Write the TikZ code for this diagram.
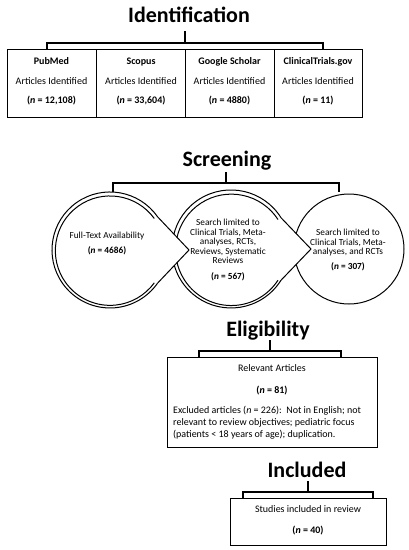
\documentclass[tikz,border=0pt]{standalone}
\usepackage{fontspec}
\setmainfont{Carlito}
\begin{document}
\begin{tikzpicture}[x=1pt,y=-1pt,
  ttl/.style={anchor=base,inner sep=0,font=\fontsize{22}{26}\selectfont\bfseries},
  txt/.style={anchor=base,inner sep=0,font=\fontsize{10}{12}\selectfont},
  btxt/.style={anchor=base,inner sep=0,font=\fontsize{10}{12}\selectfont\bfseries},
  ltxt/.style={anchor=base west,inner sep=0,font=\fontsize{10}{12}\selectfont},
  ctxt/.style={anchor=base,inner sep=0,font=\fontsize{9.3}{11}\selectfont},
  cbtxt/.style={anchor=base,inner sep=0,font=\fontsize{9.3}{11}\selectfont\bfseries},
  srcbox/.style={draw,line width=1pt,inner sep=0,minimum height=68pt},
  brk/.style={line width=1.3pt},
  ring/.style={draw,line width=1pt,fill=white},
  ringin/.style={line width=1pt},
]
\fill[white] (0,0) rectangle (409,550);
\useasboundingbox (0,0) rectangle (409,550);

% ---------- Identification ----------
\node[ttl] (idt) at (189,22) {Identification};
\coordinate (idtop) at (185,31);
\coordinate (idbar) at (185,43);
\coordinate (idl) at (47,49);
\coordinate (idr) at (323,49);
\draw[brk] (idtop) -- (idbar);
\draw[brk] (idl) |- (idbar) -| (idr);

\node[srcbox,minimum width=89pt] (pub) at (51.5,83) {};
\node[srcbox,minimum width=89pt] (sco) at (140.5,83) {};
\node[srcbox,minimum width=89pt] (goo) at (229.5,83) {};
\node[srcbox,minimum width=88pt] (ctg) at (318,83) {};

\node[btxt] (pub1) at (51.5,64) {PubMed};
\node[txt]  (pub2) at (51.5,84) {Articles Identified};
\node[btxt] (pub3) at (51.5,103) {(\textit{n} = 12,108)};
\node[btxt] (sco1) at (141,64) {Scopus};
\node[txt]  (sco2) at (141,84) {Articles Identified};
\node[btxt] (sco3) at (141,103) {(\textit{n} = 33,604)};
\node[btxt] (goo1) at (229.5,64) {Google Scholar};
\node[txt]  (goo2) at (229.5,84) {Articles Identified};
\node[btxt] (goo3) at (229.5,103) {(\textit{n} = 4880)};
\node[btxt] (ctg1) at (318,64) {ClinicalTrials.gov};
\node[txt]  (ctg2) at (318,84) {Articles Identified};
\node[btxt] (ctg3) at (318,103) {(\textit{n} = 11)};

% ---------- Screening ----------
\node[ttl] (sct) at (227,166) {Screening};
\coordinate (sctop) at (226,172);
\coordinate (scbar) at (226,183);
\coordinate (scl) at (113,192);
\coordinate (scr) at (339,192);
\draw[brk] (sctop) -- (scbar);
\draw[brk] (scl) |- (scbar) -| (scr);

% circle 3
\draw[ring] (349,249) circle[radius=55pt];
% circle 2 with pointer
\draw[ring] (281,217.7) arc[start angle=32,end angle=328,radius=59pt] -- (311,249) -- cycle;
\draw[ringin] (278,219.5) arc[start angle=33,end angle=327,radius=55.7pt];
% circle 1 with pointer
\draw[ring] (157.5,216.7) arc[start angle=35,end angle=325,radius=58pt] -- (189,250) -- cycle;
\draw[ringin] (154.3,218.5) arc[start angle=36,end angle=324,radius=54.7pt];

\node[ctxt]  (c1a) at (107,238) {Full-Text Availability};
\node[cbtxt] (c1b) at (107,253) {(\textit{n} = 4686)};

\node[ctxt]  (c2a) at (228,225) {Search limited to};
\node[ctxt]  (c2b) at (228,235) {Clinical Trials, Meta-};
\node[ctxt]  (c2c) at (228,244.5) {analyses, RCTs,};
\node[ctxt]  (c2d) at (228,254) {Reviews, Systematic};
\node[ctxt]  (c2e) at (228,263) {Reviews};
\node[cbtxt] (c2f) at (228,279) {(\textit{n} = 567)};

\node[ctxt]  (c3a) at (348,235) {Search limited to};
\node[ctxt]  (c3b) at (348,245) {Clinical Trials, Meta-};
\node[ctxt]  (c3c) at (348,254.5) {analyses, and RCTs};
\node[cbtxt] (c3d) at (348,269) {(\textit{n} = 307)};

% ---------- Eligibility ----------
\node[ttl] (elt) at (268,336) {Eligibility};
\coordinate (eltop) at (270,340);
\coordinate (elbar) at (270,351);
\coordinate (ell) at (199,357);
\coordinate (elr) at (341,357);
\draw[brk] (eltop) -- (elbar);
\draw[brk] (ell) |- (elbar) -| (elr);
\node[draw,line width=1pt,inner sep=0,minimum width=210pt,minimum height=90pt] (elbox) at (272,402) {};
\node[txt]  (el1) at (272,371) {Relevant Articles};
\node[btxt] (el2) at (272,393) {(\textit{n} = 81)};
\node[ltxt] (el3) at (173,413) {Excluded articles (\textit{n} = 226):\ \ Not in English; not};
\node[ltxt] (el4) at (173,425) {relevant to review objectives; pediatric focus};
\node[ltxt] (el5) at (173,437) {(patients < 18 years of age); duplication.};

% ---------- Included ----------
\node[ttl] (inct) at (307,477) {Included};
\coordinate (intop) at (308,481);
\coordinate (inbar) at (308,492);
\coordinate (inl) at (243,498);
\coordinate (inr) at (373,498);
\draw[brk] (intop) -- (inbar);
\draw[brk] (inl) |- (inbar) -| (inr);
\node[draw,line width=1pt,inner sep=0,minimum width=156pt,minimum height=47pt] (inbox) at (308,521.5) {};
\node[txt]  (in1) at (308,512) {Studies included in review};
\node[btxt] (in2) at (308,533) {(\textit{n} = 40)};
\end{tikzpicture}
\end{document}
